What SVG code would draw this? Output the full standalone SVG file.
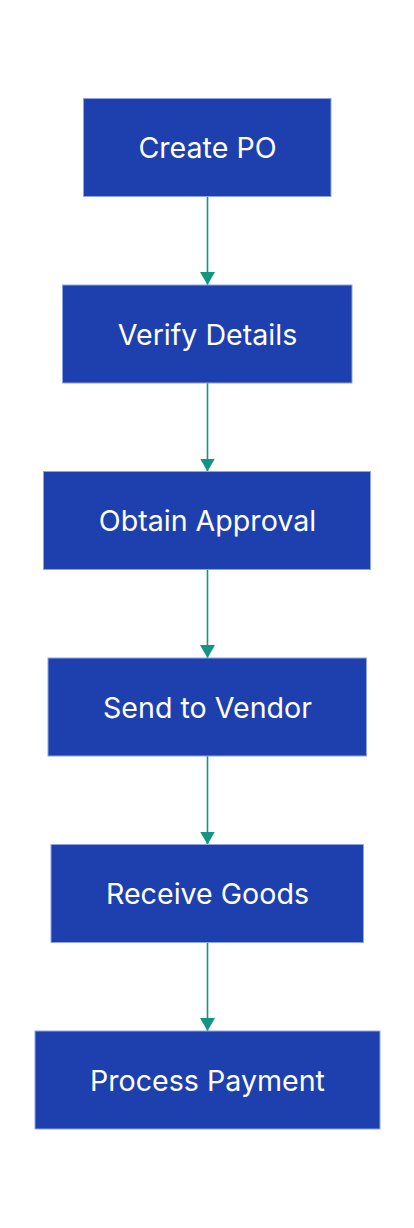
<svg xmlns="http://www.w3.org/2000/svg" width="414" height="1228" viewBox="0 0 414 1228">
<defs>
<style>
.box{fill:#1e40af;stroke:#8fa3e8;stroke-width:1}
.lbl{font-family:Inter,"Noto Sans",sans-serif;font-size:28.6px;fill:#ffffff;text-anchor:middle}
.edge{stroke:#129683;stroke-width:1.6;fill:none}
</style>
<marker id="arr" markerUnits="userSpaceOnUse" markerWidth="16" markerHeight="16" refX="13" refY="7.5" orient="auto">
<path d="M0,0 L13,7.5 L0,15 Z" fill="#129683"/>
</marker>
</defs>
<rect width="414" height="1228" fill="#ffffff"/>
<g id="connectors">
<line class="edge" x1="207.5" y1="196.5" x2="207.5" y2="285" marker-end="url(#arr)"/>
<line class="edge" x1="207.5" y1="383" x2="207.5" y2="471.5" marker-end="url(#arr)"/>
<line class="edge" x1="207.5" y1="569.5" x2="207.5" y2="658" marker-end="url(#arr)"/>
<line class="edge" x1="207.5" y1="756" x2="207.5" y2="844.5" marker-end="url(#arr)"/>
<line class="edge" x1="207.5" y1="942.5" x2="207.5" y2="1031" marker-end="url(#arr)"/>
</g>
<g id="node-create-po">
<rect class="box" x="83.5" y="98.5" width="247.5" height="98"/>
<text class="lbl" x="207.5" y="158">Create PO</text>
</g>
<g id="node-verify-details">
<rect class="box" x="62.5" y="285" width="289.5" height="98"/>
<text class="lbl" x="207.5" y="344.5">Verify Details</text>
</g>
<g id="node-obtain-approval">
<rect class="box" x="43.5" y="471.5" width="327" height="98"/>
<text class="lbl" x="207.5" y="531">Obtain Approval</text>
</g>
<g id="node-send-to-vendor">
<rect class="box" x="48" y="658" width="318.5" height="98"/>
<text class="lbl" x="207.5" y="717.5">Send to Vendor</text>
</g>
<g id="node-receive-goods">
<rect class="box" x="51" y="844.5" width="312.5" height="98"/>
<text class="lbl" x="207.5" y="904">Receive Goods</text>
</g>
<g id="node-process-payment">
<rect class="box" x="35" y="1031" width="345" height="98"/>
<text class="lbl" x="207.5" y="1090.5">Process Payment</text>
</g>
</svg>
